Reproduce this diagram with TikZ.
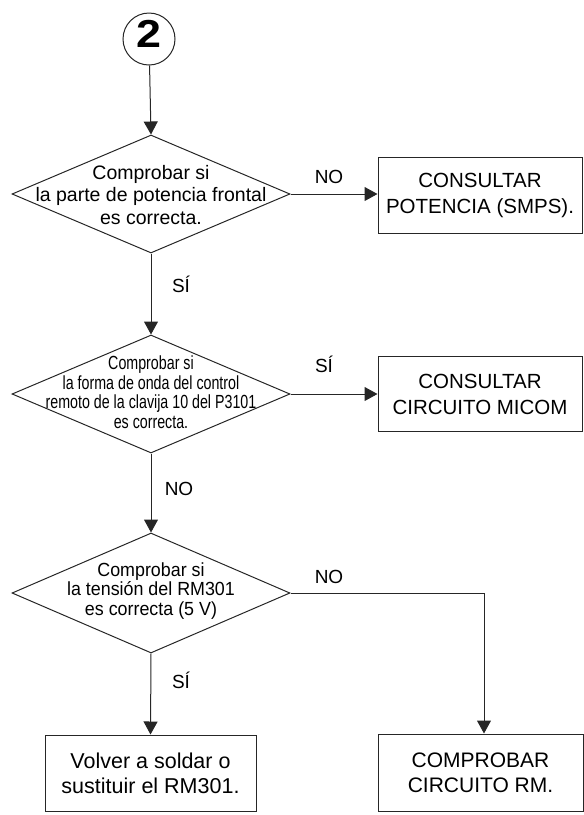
\documentclass[tikz,border=0pt]{standalone}
\usepackage{fontspec}
\setmainfont{Liberation Sans}
\newfontfamily\narrowA[FakeStretch=0.75]{Liberation Sans}
\newfontfamily\narrowB[FakeStretch=0.94]{Liberation Sans}
\usetikzlibrary{shapes.geometric,arrows.meta}

\begin{document}
\begin{tikzpicture}[x=1pt,y=-1pt,
  line/.style={draw=black!85,line width=1pt},
  arr/.style={line,-{Triangle[length=13pt,width=14pt]}},
  decision/.style={line,shape=diamond,minimum width=278pt,minimum height=118pt,inner sep=0pt},
  dtext/.style={align=center,inner sep=0pt},
  action/.style={line,rectangle,minimum width=204pt,minimum height=76pt,inner sep=0pt,align=center},
  lbl/.style={anchor=base,inner sep=0pt,font=\fontsize{19}{19}\selectfont},
  connector/.style={line,circle,minimum size=52pt,inner sep=0pt}
]
\useasboundingbox (0,0) rectangle (584,815);

% connector at the top
\node[connector] (start) at (149,39) {};
\node[inner sep=0pt,font=\fontsize{39}{39}\selectfont\bfseries] at (149,34) {\scalebox{1.15}[1]{2}};

% first check: front power section
\node[decision] (d1) at (151,194) {};
\node[dtext,font=\fontsize{19.5}{22.5}\selectfont] at (151,195) {Comprobar si\\la parte de potencia frontal\\es correcta.};
\node[action,font=\fontsize{20.5}{26}\selectfont] (b1) at (480,195) {CONSULTAR\\POTENCIA (SMPS).};

% second check: remote control waveform
\node[decision] (d2) at (151,394) {};
\node[dtext,font=\narrowA\fontsize{19}{19.5}\selectfont] at (151,392) {Comprobar si\\la forma de onda del control\\remoto de la clavija 10 del P3101\\es correcta.};
\node[action,minimum height=75pt,font=\fontsize{20.5}{26}\selectfont] (b2) at (480,394) {CONSULTAR\\CIRCUITO MICOM};

% third check: RM301 voltage
\node[decision,minimum height=120pt] (d3) at (151,593) {};
\node[dtext,font=\narrowB\fontsize{19}{19.5}\selectfont] at (151,591) {Comprobar si\\la tensión del RM301\\es correcta (5 V)};

\node[action,minimum width=211pt,font=\fontsize{21.5}{25}\selectfont] (b4) at (150.5,773) {Volver a soldar o\\sustituir el RM301.};
\node[action,minimum width=205pt,minimum height=77pt,font=\fontsize{21}{25}\selectfont] (b3) at (480.5,772.5) {COMPROBAR\\CIRCUITO RM.};

% connectors
\draw[arr] (start) -- (d1.north);
\draw[arr] (d1.east) -- (d1.east -| b1.west);
\draw[arr] (d1.south) -- (d2.north);
\draw[arr] (d2.east) -- (d2.east -| b2.west);
\draw[arr] (d2.south) -- (d3.north);
\draw[arr] (d3.south) -- (b4.north);
\draw[arr] (d3.east) -| ([xshift=3.5pt]b3.north);

% branch labels
\node[lbl] at (329,183) {NO};
\node[lbl] at (181,292) {SÍ};
\node[lbl] at (324,372) {SÍ};
\node[lbl] at (179,495) {NO};
\node[lbl] at (329,583) {NO};
\node[lbl] at (181,688) {SÍ};
\end{tikzpicture}
\end{document}
